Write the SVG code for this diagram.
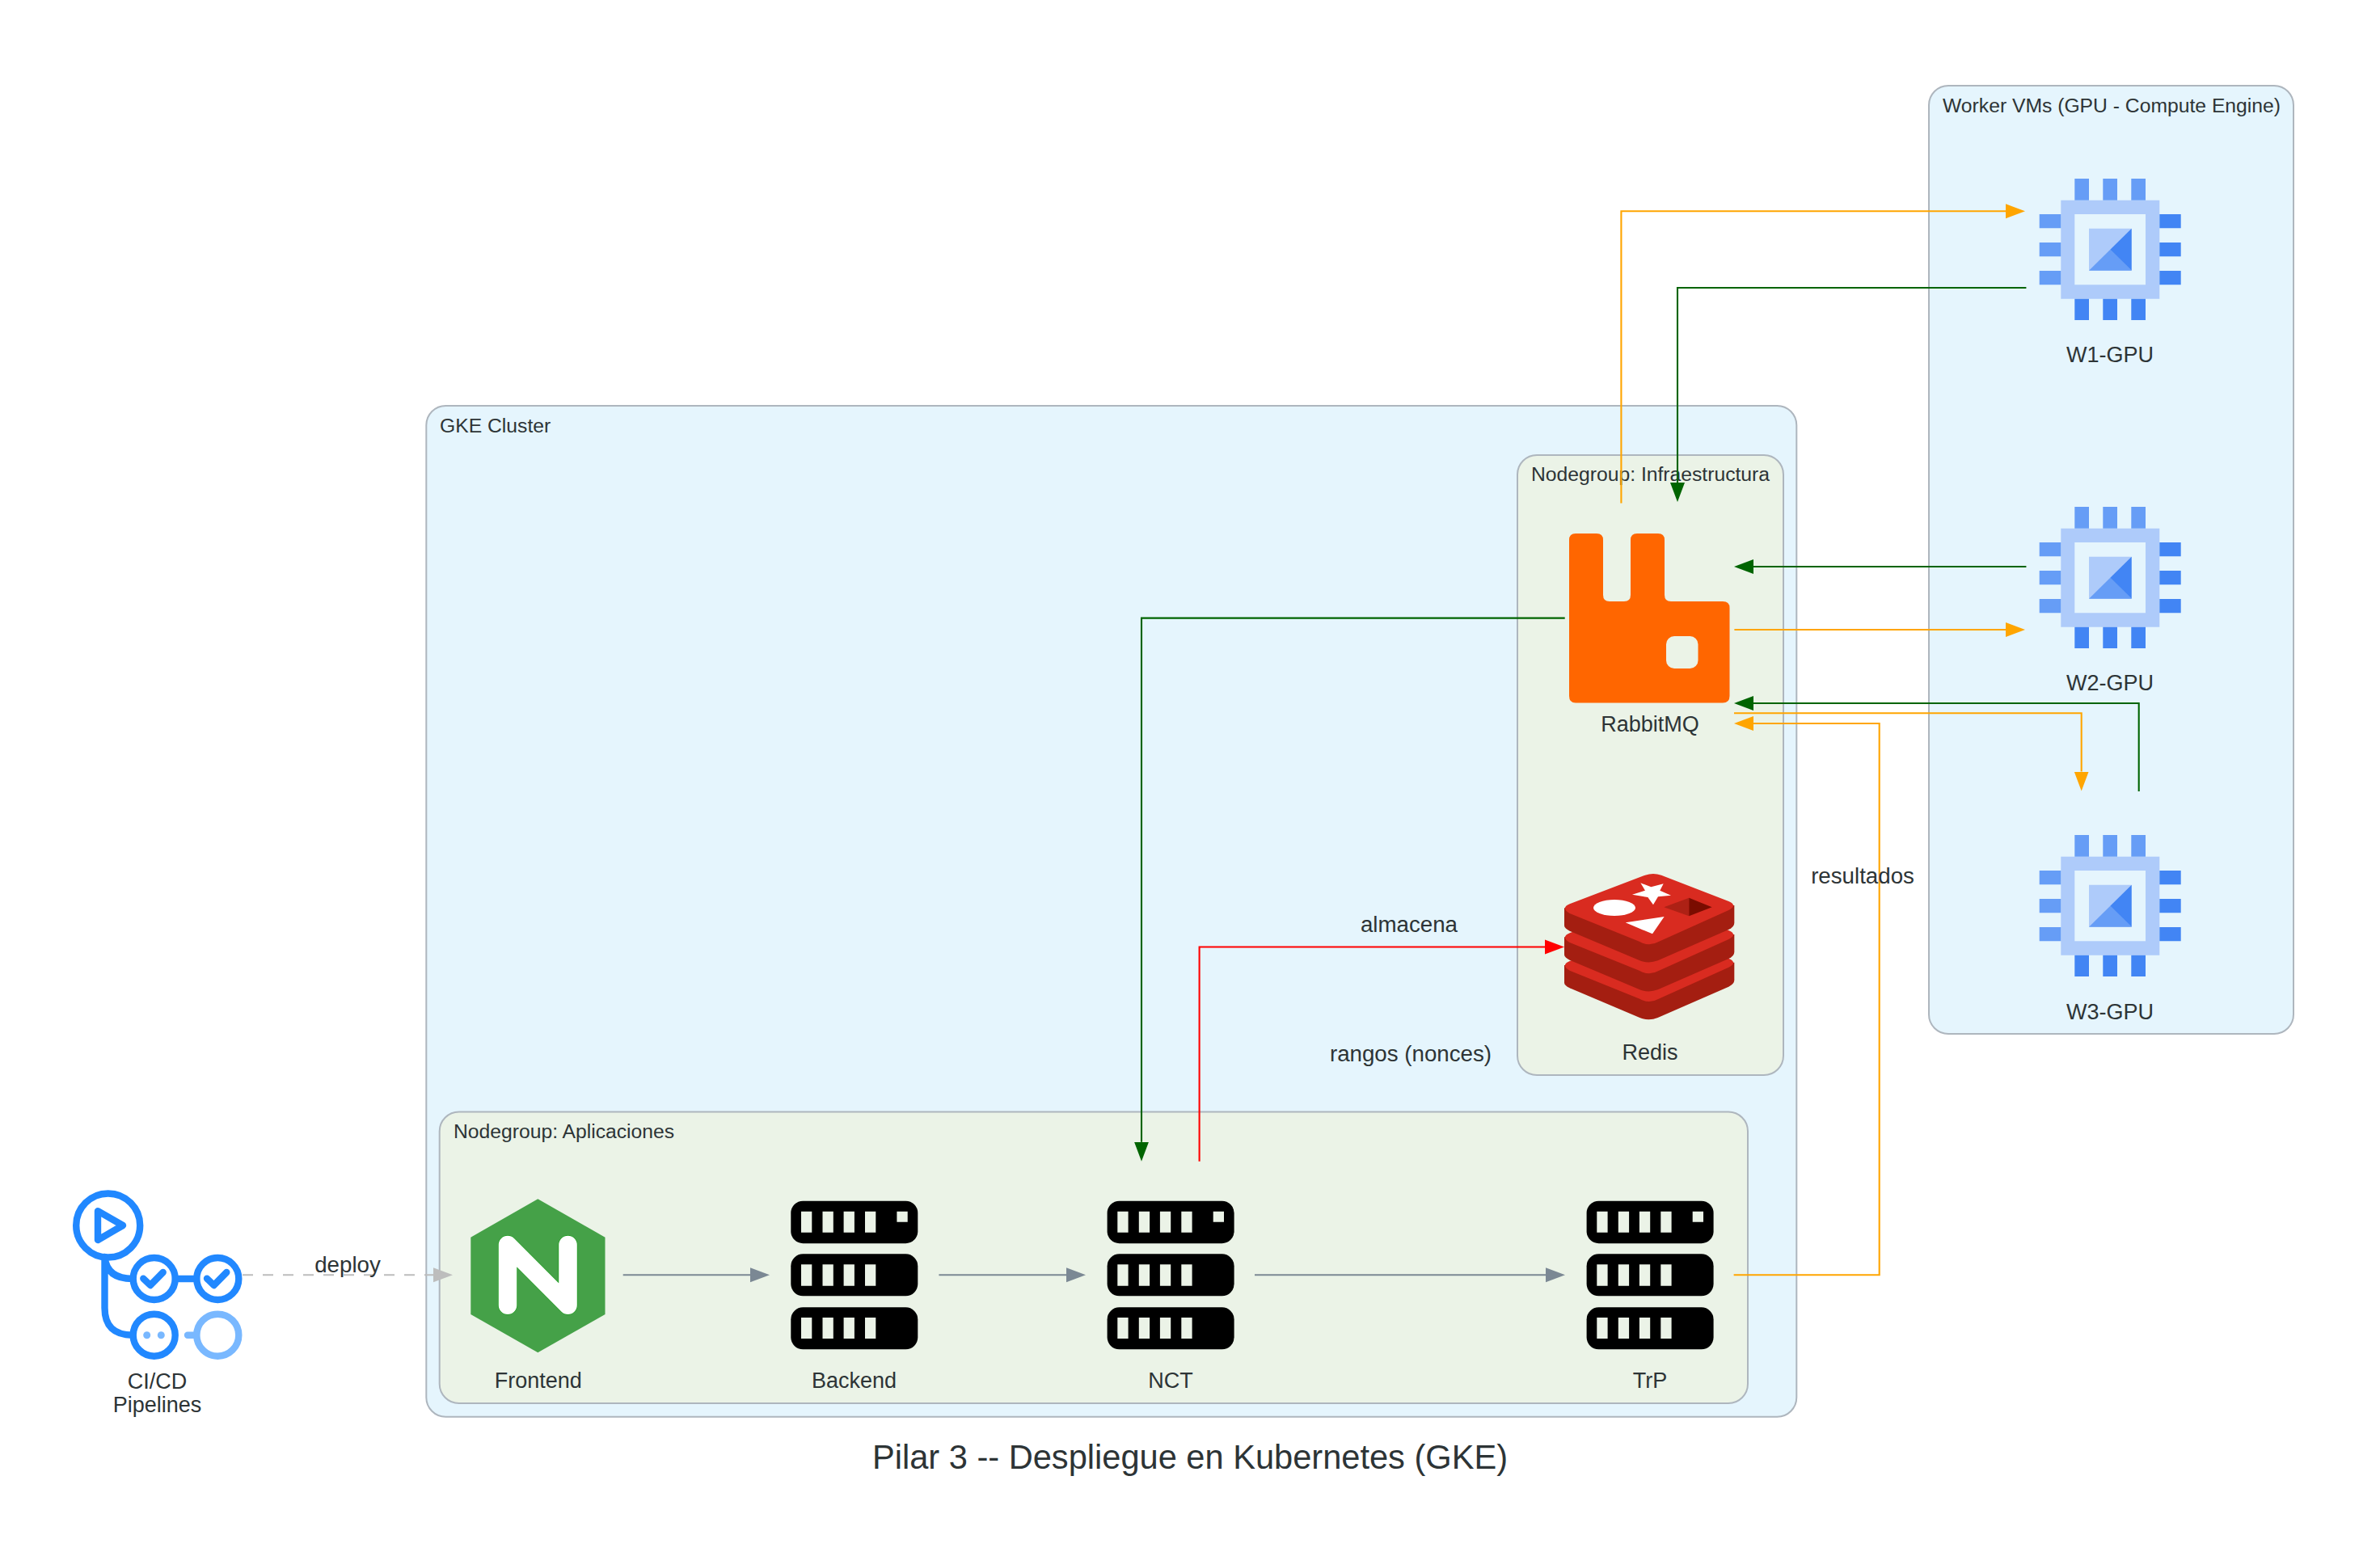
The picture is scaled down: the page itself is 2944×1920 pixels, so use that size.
<svg xmlns="http://www.w3.org/2000/svg" xmlns:xlink="http://www.w3.org/1999/xlink" width="2944" height="1920" viewBox="0 0 2944 1920">
<style>
text{font-family:"Liberation Sans",Arial,sans-serif;fill:#2D3436}
.cl{font-size:24.7px}
.nl{font-size:27px;text-anchor:middle}
.el{font-size:27.7px;text-anchor:middle}
.ttl{font-size:41.6px;text-anchor:middle}
.c1{fill:#E5F5FD;stroke:#AEB6BE;stroke-width:2}
.c2{fill:#EBF3E7;stroke:#AEB6BE;stroke-width:2}
.e{fill:none;stroke-width:2.1}
.or{stroke:#FFA500;marker-end:url(#aOr)}
.gn{stroke:#006400;marker-end:url(#aGn)}
.rd{stroke:#FF0000;marker-end:url(#aRd)}
.gy{stroke:#7B8894;marker-end:url(#aGy)}
.da{stroke:#BDBDBD;stroke-dasharray:13 12;marker-end:url(#aDa)}
.p1{fill:#669DF6}.p2{fill:#4285F4}.p3{fill:#AECBFA}
.ga{fill:none;stroke:#2188FF;stroke-width:8.4;stroke-linecap:round;stroke-linejoin:round}
</style>
<defs>
<marker id="aOr" markerUnits="userSpaceOnUse" markerWidth="26" markerHeight="20" refX="0" refY="10" orient="auto"><path d="M0,1L24,10L0,19Z" fill="#FFA500"/></marker>
<marker id="aGn" markerUnits="userSpaceOnUse" markerWidth="26" markerHeight="20" refX="0" refY="10" orient="auto"><path d="M0,1L24,10L0,19Z" fill="#006400"/></marker>
<marker id="aRd" markerUnits="userSpaceOnUse" markerWidth="26" markerHeight="20" refX="0" refY="10" orient="auto"><path d="M0,1L24,10L0,19Z" fill="#FF0000"/></marker>
<marker id="aGy" markerUnits="userSpaceOnUse" markerWidth="26" markerHeight="20" refX="0" refY="10" orient="auto"><path d="M0,1L24,10L0,19Z" fill="#7B8894"/></marker>
<marker id="aDa" markerUnits="userSpaceOnUse" markerWidth="26" markerHeight="20" refX="0" refY="10" orient="auto"><path d="M0,1L24,10L0,19Z" fill="#BDBDBD"/></marker>
<g id="chip">
<path class="p3" fill-rule="evenodd" d="M26.6,26.7H148.6V148.7H26.6ZM43.6,44V131.3H131.3V44Z"/>
<path class="p1" d="M43.6,0H61.3V26.7H43.6ZM78.6,0H96.3V26.7H78.6ZM113.6,0H131.3V26.7H113.6ZM0,44H26.6V61.3H0ZM0,79H26.6V96.3H0ZM0,114H26.6V131.3H0Z"/>
<path class="p2" d="M43.6,148.7H61.3V175H43.6ZM78.6,148.7H96.3V175H78.6ZM113.6,148.7H131.3V175H113.6ZM148.6,44H175V61.3H148.6ZM148.6,79H175V96.3H148.6ZM148.6,114H175V131.3H148.6Z"/>
<path class="p3" d="M61.3,61.7H114V113.7H61.3Z"/>
<path class="p1" d="M61.3,113.7L87.6,87.7L114,113.7Z"/>
<path class="p2" d="M114,61.7V113.7L87.6,87.7Z"/>
</g>
<g id="server">
<rect x="0" y="0" width="157" height="52.5" rx="15"/>
<rect x="0" y="65.6" width="157" height="52" rx="15"/>
<rect x="0" y="131.6" width="157" height="52" rx="15"/>
<path fill="#EBF3E7" d="M12.7,13H26V39H12.7ZM39.2,13H52.5V39H39.2ZM65.3,13H78.6V39H65.3ZM91.7,13H105V39H91.7ZM131.1,13H144.4V26H131.1ZM12.7,78.6H26V105H12.7ZM39.2,78.6H52.5V105H39.2ZM65.3,78.6H78.6V105H65.3ZM91.7,78.6H105V105H91.7ZM12.7,144.3H26V170.3H12.7ZM39.2,144.3H52.5V170.3H39.2ZM65.3,144.3H78.6V170.3H65.3ZM91.7,144.3H105V170.3H91.7Z"/>
</g>
<g id="redisLayer">
<path fill="#A41E11" d="M45,190V255Q45,265 65,275L325,385Q358,398 392,385L655,270Q676,260 676,245V180Z"/>
<path fill="#D92B20" d="M345,68Q375,58 405,68L655,165Q690,180 655,198L395,315Q360,335 325,315L65,210Q30,190 65,175Z"/>
</g>
</defs>
<rect width="2944" height="1920" fill="#FFFFFF"/>

<g id="cluster-workers"><rect class="c1" x="2386" y="106" width="451" height="1173" rx="24"/><text class="cl" x="2403" y="139">Worker VMs (GPU - Compute Engine)</text></g>
<g id="cluster-gke"><rect class="c1" x="527.3" y="502" width="1695" height="1250.7" rx="24"/><text class="cl" x="544" y="535">GKE Cluster</text></g>
<g id="cluster-infra"><rect class="c2" x="1877" y="563" width="329" height="767" rx="24"/><text class="cl" x="1894" y="595">Nodegroup: Infraestructura</text></g>
<g id="cluster-apps"><rect class="c2" x="543.7" y="1375.5" width="1618.3" height="360.5" rx="24"/><text class="cl" x="561" y="1408">Nodegroup: Aplicaciones</text></g>

<g id="w1"><use href="#chip" x="2522.7" y="221"/><text class="nl" x="2610" y="448">W1-GPU</text></g>
<g id="w2"><use href="#chip" x="2522.7" y="627"/><text class="nl" x="2610" y="854">W2-GPU</text></g>
<g id="w3"><use href="#chip" x="2522.7" y="1033"/><text class="nl" x="2610" y="1261">W3-GPU</text></g>

<g id="rabbitmq">
<path fill="#FF6600" d="M1949,660H1975Q1983,660 1983,668V736Q1983,744 1991,744H2009Q2017,744 2017,736V668Q2017,660 2025,660H2051Q2059,660 2059,668V736Q2059,744 2067,744H2131Q2139.5,744 2139.5,752V861Q2139.5,869.5 2131,869.5H1949Q1941,869.5 1941,861V668Q1941,660 1949,660Z"/>
<rect x="2061" y="787" width="39.5" height="40" rx="10" fill="#EBF3E7"/>
<text class="nl" x="2041" y="905">RabbitMQ</text>
</g>
<g id="redis">
<g transform="translate(1920,1060) scale(0.3333)">
<use href="#redisLayer" y="212"/>
<use href="#redisLayer" y="108"/>
<use href="#redisLayer"/>
<path fill="#FFFFFF" d="M328,97L367,112L413,100L400,125L441,143L393,148L375,178L355,150L297,140L345,125Z"/>
<ellipse cx="231" cy="189" rx="78" ry="30" fill="#FFFFFF"/>
<path fill="#FFFFFF" d="M416,222L272,244L372,286Z"/>
<path fill="#AD2115" d="M415,187L508,152V220Z"/>
<path fill="#7A0C00" d="M508,152L593,187L508,220Z"/>
</g>
<text class="nl" x="2041" y="1311">Redis</text>
</g>
<g id="frontend">
<path fill="#45A148" d="M665.3,1483.3L748.5,1530.7V1626L665.3,1673.3L582.3,1626V1530.7Z"/>
<path fill="none" stroke="#0A9A0A" stroke-width="23.6" stroke-linecap="round" stroke-linejoin="round" d="M628,1614.7V1540L702.5,1614.7V1540"/>
<path fill="none" stroke="#FFFFFF" stroke-width="22.6" stroke-linecap="round" stroke-linejoin="round" d="M628,1614.7V1540L702.5,1614.7V1540"/>
<text class="nl" x="665.7" y="1717.3">Frontend</text>
</g>
<g id="backend"><use href="#server" x="978.3" y="1485.7"/><text class="nl" x="1056.5" y="1717.3">Backend</text></g>
<g id="nct"><use href="#server" x="1369.6" y="1485.7"/><text class="nl" x="1448" y="1717.3">NCT</text></g>
<g id="trp"><use href="#server" x="1962.6" y="1485.7"/><text class="nl" x="2041" y="1717.3">TrP</text></g>
<g id="cicd">
<circle class="ga" cx="133.7" cy="1516" r="39.5"/>
<path class="ga" d="M121,1498.2L152,1516L121,1534Z"/>
<circle class="ga" cx="190.7" cy="1582" r="26"/>
<circle class="ga" cx="269.3" cy="1582" r="26"/>
<circle class="ga" cx="190.7" cy="1651.7" r="26"/>
<circle class="ga" cx="269.3" cy="1651.7" r="26" style="stroke:#79B8FF"/>
<path class="ga" d="M129.5,1555V1618Q129.5,1651.7 164,1651.7M129.5,1555Q132,1582 164,1582M217,1582H243"/>
<path class="ga" d="M177.3,1581.7L186,1590L201.7,1574M256,1581.7L264.6,1590L280.3,1574"/>
<path class="ga" style="stroke:#79B8FF" d="M232,1651.7H243"/>
<circle cx="181.7" cy="1651.7" r="4.5" fill="#79B8FF"/>
<circle cx="199.3" cy="1651.7" r="4.5" fill="#79B8FF"/>
<text class="nl" x="194.5" y="1718">CI/CD</text>
<text class="nl" x="194.5" y="1747">Pipelines</text>
</g>

<g id="connectors">
<path class="e da" d="M300,1577.3H536"/>
<path class="e gy" d="M770.7,1577.3H928"/>
<path class="e gy" d="M1161.4,1577.3H1319"/>
<path class="e gy" d="M1552,1577.3H1912"/>
<path class="e or" d="M2005.4,622.5V261.3H2481"/>
<path class="e gn" d="M2506.4,356H2075V597"/>
<path class="e gn" d="M2506.4,701H2169"/>
<path class="e or" d="M2145.4,779H2481"/>
<path class="e gn" d="M2645.7,979V870H2169"/>
<path class="e or" d="M2145,882.3H2574.7V954.5"/>
<path class="e or" d="M2144.6,1577.3H2324.7V895H2169"/>
<path class="e gn" d="M1935.7,764.6H1412V1412.7"/>
<path class="e rd" d="M1483.6,1436.7V1171.5H1911"/>
</g>
<g id="edge-labels">
<text class="el" x="430" y="1574">deploy</text>
<text class="el" x="1743" y="1153">almacena</text>
<text class="el" x="1745" y="1313">rangos (nonces)</text>
<text class="el" x="2304" y="1093">resultados</text>
</g>
<text class="ttl" x="1472" y="1816.7">Pilar 3 -- Despliegue en Kubernetes (GKE)</text>
</svg>
